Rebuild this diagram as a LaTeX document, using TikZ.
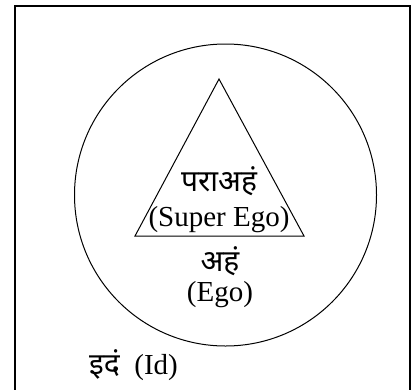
\documentclass[tikz,border=0pt]{standalone}
\usepackage{fontspec}
\setmainfont{Liberation Serif}
\newfontfamily\devfont[Script=Devanagari]{Noto Sans}
\usetikzlibrary{positioning}
\tikzset{
  lbl/.style={font=\fontsize{29}{32}\selectfont, inner sep=0pt},
  devlbl/.style={font=\devfont\fontsize{30}{34}\selectfont, inner sep=0pt},
  shape line/.style={draw, line width=1pt},
}

\begin{document}
\begin{tikzpicture}[x=1pt, y=-1pt]
  \useasboundingbox (0,0) rectangle (417,389);

  % Frame (open at the bottom)
  \draw[line width=1.5pt] (15,392) -- (15,6) -- (410,6) -- (410,392);

  % Id circle
  \node[shape line, circle, minimum size=302pt, inner sep=0pt] (id) at (225.5,195) {};

  % Super ego triangle
  \coordinate (apex) at (219,79);
  \coordinate (bl) at (135,236);
  \coordinate (br) at (304,236);
  \draw[line width=1pt] (apex) -- (bl) -- (br) -- cycle;

  % Labels
  \node[devlbl] (superdev) at (219,181) {पराअहं};
  \node[lbl] (super) at (219,220) {(Super Ego)};
  \node[devlbl] (egodev) at (220,261) {अहं};
  \node[lbl] (ego) at (220,295) {(Ego)};
  \node[lbl, anchor=west] (idlbl) at (89,365) {{\devfont\fontsize{30}{34}\selectfont इदं}\ \ (Id)};
\end{tikzpicture}
\end{document}
